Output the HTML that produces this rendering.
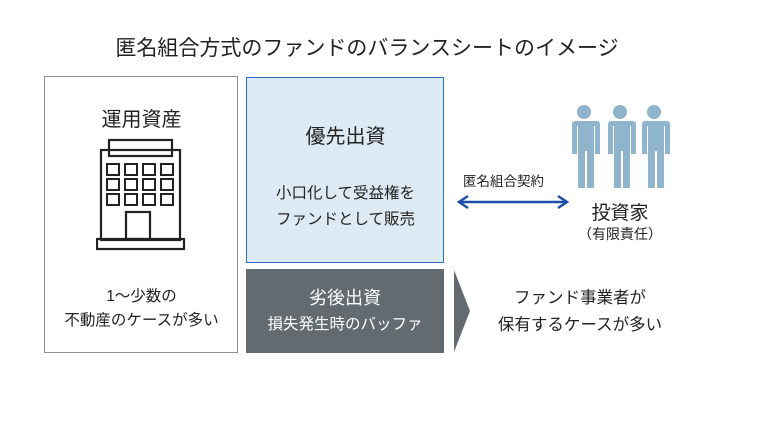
<!DOCTYPE html>
<html><head><meta charset="utf-8"><style>
body{margin:0;width:760px;height:428px;background:#fff;position:relative;font-family:"Liberation Sans","Noto Sans CJK JP",sans-serif;color:#222;overflow:hidden}
.a{position:absolute;white-space:nowrap}
.c{text-align:center}
</style></head><body>
<div class="a c" style="left:0;width:734px;top:32px;font-size:21px">匿名組合方式のファンドのバランスシートのイメージ</div>
<div class="a" style="left:44px;top:76px;width:192px;height:275px;border:1.5px solid #8a9096"></div>
<div class="a c" style="left:44px;width:195px;top:103px;font-size:20px">運用資産</div>
<svg class="a" style="left:96px;top:138px" width="90" height="114" viewBox="0 0 90 114">
<g fill="none" stroke="#222" stroke-width="2.2">
<rect x="13" y="2" width="63" height="16"/>
<rect x="5" y="12" width="79" height="90"/>
<rect x="1" y="101" width="87" height="10"/>
<rect x="30" y="74" width="24" height="27"/>
</g>
<g fill="none" stroke="#222" stroke-width="2">
<rect x="11" y="26" width="12" height="11"/><rect x="29" y="26" width="12" height="11"/><rect x="47" y="26" width="12" height="11"/><rect x="65" y="26" width="12" height="11"/>
<rect x="11" y="41" width="12" height="11"/><rect x="29" y="41" width="12" height="11"/><rect x="47" y="41" width="12" height="11"/><rect x="65" y="41" width="12" height="11"/>
<rect x="11" y="56" width="12" height="11"/><rect x="29" y="56" width="12" height="11"/><rect x="47" y="56" width="12" height="11"/><rect x="65" y="56" width="12" height="11"/>
</g></svg>
<div class="a c" style="left:44px;width:195px;top:285px;font-size:15.5px;line-height:24px">1～少数の<br>不動産のケースが多い</div>
<div class="a" style="left:246px;top:77px;width:196px;height:184px;background:#deeaf3;border:1.5px solid #2f6fc0"></div>
<div class="a c" style="left:246px;width:199px;top:120px;font-size:20px">優先出資</div>
<div class="a c" style="left:246px;width:199px;top:181px;font-size:15.5px;line-height:26px">小口化して受益権を<br>ファンドとして販売</div>
<div class="a" style="left:246px;top:269px;width:198px;height:84px;background:#636a70"></div>
<div class="a c" style="left:246px;width:198px;top:286px;font-size:18px;color:#fff;line-height:25px">劣後出資<br><span style="font-size:15.5px">損失発生時のバッファ</span></div>
<svg class="a" style="left:452px;top:268px" width="22" height="86"><polygon points="2,2 18,43 2,84" fill="#636a70"/></svg>
<div class="a c" style="left:470px;width:220px;top:285px;font-size:16.5px;line-height:27px">ファンド事業者が<br>保有するケースが多い</div>
<div class="a" style="left:463px;top:170px;font-size:13.5px">匿名組合契約</div>
<svg class="a" style="left:455px;top:194px" width="116" height="16"><line x1="6" y1="8" x2="110" y2="8" stroke="#1e4fa8" stroke-width="2.5"/><polyline points="13,2 4,8 13,14" fill="none" stroke="#1e4fa8" stroke-width="2.5"/><polyline points="103,2 112,8 103,14" fill="none" stroke="#1e4fa8" stroke-width="2.5"/></svg>
<svg class="a" style="left:568px;top:104px" width="106" height="88">
<g fill="#8fb4cc">
<g id="p"><circle cx="16" cy="8" r="7"/><path d="M3 17 h26 a3 3 0 0 1 3 3 v30 h-5 v-28 h-1 v62 h-7 v-37 h-2 v37 h-7 v-62 h-1 v28 h-5 v-30 a3 3 0 0 1 3 -3z"/></g>
<use href="#p" x="36"/><use href="#p" x="70"/>
</g></svg>
<div class="a c" style="left:560px;width:120px;top:198px;font-size:19px">投資家</div>
<div class="a c" style="left:560px;width:120px;top:224px;font-size:14px">（有限責任）</div>
</body></html>
